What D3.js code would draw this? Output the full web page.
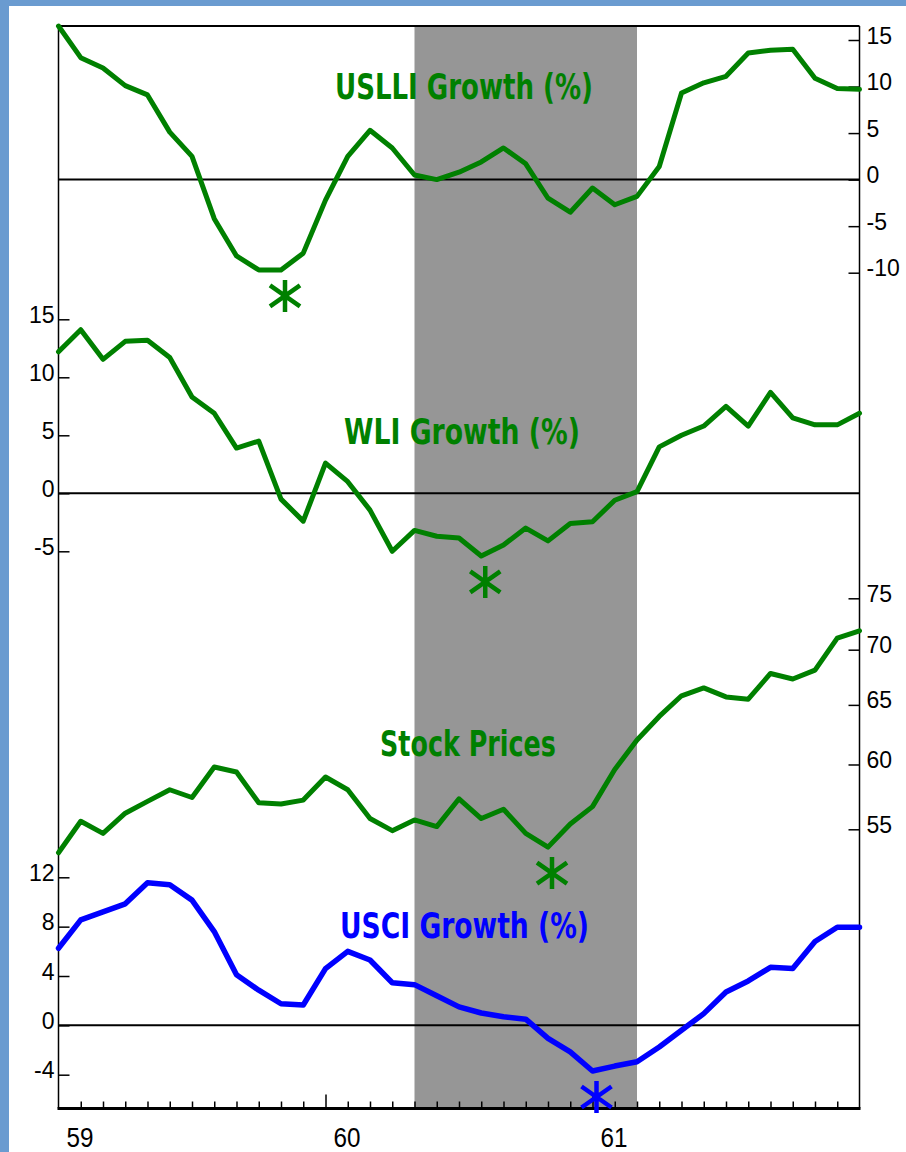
<!DOCTYPE html>
<html>
<head>
<meta charset="utf-8">
<script src="https://cdn.jsdelivr.net/npm/d3@7"></script>
<style>
  body { margin: 0; background: #fff; }
  svg { display: block; }
  .title { font-family: 'DejaVu Sans Condensed', 'DejaVu Sans', sans-serif; font-weight: bold; font-size: 36px; }
</style>
</head>
<body>
<div id="chart"></div>
<script>
// monthly data, Jan 1959 .. Jan 1962 (37 points)
let months = d3.range(0, 37)
let years = ['59', '60', '61']

let uslli = [16.5, 13.1, 12.0, 10.1, 9.1, 5.1, 2.5, -4.2, -8.2, -9.7, -9.7, -7.9, -2.2,
  2.5, 5.3, 3.4, 0.5, 0.0, 0.8, 1.9, 3.4, 1.7, -2.0, -3.5, -0.9, -2.7, -1.8,
  1.4, 9.3, 10.4, 11.1, 13.6, 13.9, 14.0, 10.9, 9.8, 9.7]

let wli = [12.2, 14.1, 11.55, 13.1, 13.2, 11.7, 8.3, 6.9, 3.9, 4.5, -0.5, -2.4, 2.6,
  1.0, -1.45, -5.0, -3.2, -3.7, -3.85, -5.4, -4.45, -3.0, -4.1, -2.6, -2.45, -0.6, 0.15,
  4.0, 5.0, 5.8, 7.5, 5.8, 8.7, 6.5, 5.9, 5.9, 6.9]

let stock = [53.3, 55.6, 54.7, 56.2, 57.1, 58.0, 57.4, 59.8, 59.4, 57.0, 56.9, 57.2, 59.0,
  58.0, 55.8, 54.9, 55.7, 55.2, 57.3, 55.8, 56.5, 54.7, 53.7, 55.4, 56.7, 59.6, 62.0,
  64.0, 65.8, 66.5, 65.7, 65.5, 67.8, 67.3, 68.1, 71.1, 71.8]

let usci = [6.25, 8.55, 9.2, 9.85, 11.55, 11.4, 10.15, 7.6, 4.1, 2.85, 1.75, 1.65, 4.6,
  6.0, 5.3, 3.45, 3.3, 2.4, 1.5, 1.0, 0.7, 0.5, -1.05, -2.15, -3.7, -3.3, -2.95,
  -1.75, -0.4, 0.95, 2.7, 3.6, 4.7, 4.6, 6.8, 7.95, 7.95]

// recession: May 1960 .. Mar 1961 (month index)
let recession = [16, 26]

// trough month for each series (asterisk)
let troughs = { uslli: 10, wli: 19, stock: 22, usci: 24 }

let uslliTicks = [15, 10, 5, 0, -5, -10]
let wliTicks = [15, 10, 5, 0, -5]
let stockTicks = [75, 70, 65, 60, 55]
let usciTicks = [12, 8, 4, 0, -4]

let width = 906
let height = 1152
let plotLeft = 58.5
let plotRight = 859.5
let plotTop = 26
let plotBottom = 1108.5

let green = '#008000'
let blue = '#0000ff'
let labelFont = "'Liberation Sans', Arial, sans-serif"

let svg = d3.select('#chart')
  .append('svg')
  .attr('width', width)
  .attr('height', height)

// frame border
svg.append('rect').attr('x', 0).attr('y', 0).attr('width', width).attr('height', height).attr('fill', '#fff')
svg.append('rect').attr('x', 0).attr('y', 0).attr('width', width).attr('height', 6).attr('fill', '#6a9bd0')
svg.append('rect').attr('x', 0).attr('y', 0).attr('width', 9).attr('height', height).attr('fill', '#6a9bd0')

let x = d3.scaleLinear().domain([0, 36]).range([plotLeft, plotRight])

let yUslli = d3.scaleLinear().domain([-10, 15]).range([272.7, 40])
let yWli = d3.scaleLinear().domain([-5, 15]).range([551.3, 319.3])
let yStock = d3.scaleLog().domain([55, 75]).range([829.3, 598.3])
let yUsci = d3.scaleLinear().domain([-4, 12]).range([1074.7, 877.3])

// recession shading
svg.append('rect')
  .attr('x', x(recession[0]))
  .attr('y', plotTop + 1)
  .attr('width', x(recession[1]) - x(recession[0]))
  .attr('height', plotBottom - plotTop - 1)
  .attr('fill', '#969696')

// zero lines
;[yUslli, yWli, yUsci].forEach(s => {
  svg.append('line')
    .attr('x1', plotLeft).attr('x2', plotRight)
    .attr('y1', s(0)).attr('y2', s(0))
    .attr('stroke', '#000').attr('stroke-width', 2)
})

// axes
let plain = d => `${d}`

function styleAxis(g, dy) {
  g.attr('font-family', labelFont).attr('font-size', 23)
  g.select('.domain').remove()
  g.selectAll('.tick line').attr('stroke', '#000').attr('stroke-width', 1.5)
  g.selectAll('.tick text').attr('dy', dy).attr('fill', '#000')
}

svg.append('g')
  .attr('transform', `translate(${plotRight},0)`)
  .call(d3.axisRight(yUslli).tickValues(uslliTicks).tickSize(-11).tickPadding(7).tickFormat(plain))
  .call(g => styleAxis(g, '0.13em'))

svg.append('g')
  .attr('transform', `translate(${plotRight},0)`)
  .call(d3.axisRight(yStock).tickValues(stockTicks).tickSize(-11).tickPadding(7).tickFormat(plain))
  .call(g => styleAxis(g, '0.13em'))

svg.append('g')
  .attr('transform', `translate(${plotLeft},0)`)
  .call(d3.axisLeft(yWli).tickValues(wliTicks).tickSize(-11).tickPadding(4).tickFormat(plain))
  .call(g => styleAxis(g, '0.13em'))

svg.append('g')
  .attr('transform', `translate(${plotLeft},0)`)
  .call(d3.axisLeft(yUsci).tickValues(usciTicks).tickSize(-11).tickPadding(4).tickFormat(plain))
  .call(g => styleAxis(g, '0.13em'))

// month ticks along the bottom
svg.append('g')
  .attr('transform', `translate(0,${plotBottom})`)
  .call(d3.axisBottom(x).tickValues(d3.range(1, 36).filter(d => d % 12 !== 0)).tickSize(-7).tickFormat(''))
  .call(g => styleAxis(g, '0'))

svg.append('g')
  .attr('transform', `translate(0,${plotBottom})`)
  .call(d3.axisBottom(x).tickValues([12, 24]).tickSize(-14).tickFormat(''))
  .call(g => styleAxis(g, '0'))

svg.selectAll('.year-label')
  .data(years)
  .enter()
  .append('text')
  .attr('class', 'year-label')
  .attr('x', (d, i) => x(i * 12) + 8)
  .attr('y', 1146.5)
  .attr('font-family', labelFont)
  .attr('font-size', 27)
  .attr('textLength', 27)
  .attr('lengthAdjust', 'spacingAndGlyphs')
  .text(d => d)

// plot frame
svg.append('line').attr('x1', plotLeft).attr('x2', plotRight).attr('y1', plotTop).attr('y2', plotTop)
  .attr('stroke', '#000').attr('stroke-width', 2)
svg.append('line').attr('x1', plotLeft).attr('x2', plotLeft).attr('y1', plotTop).attr('y2', plotBottom)
  .attr('stroke', '#000').attr('stroke-width', 1.5)
svg.append('line').attr('x1', plotRight).attr('x2', plotRight).attr('y1', plotTop).attr('y2', plotBottom)
  .attr('stroke', '#000').attr('stroke-width', 1.5)
svg.append('line').attr('x1', plotLeft - 1).attr('x2', plotRight + 1).attr('y1', plotBottom).attr('y2', plotBottom)
  .attr('stroke', '#000').attr('stroke-width', 3)

// series
let series = [
  { key: 'uslli', values: uslli, y: yUslli, color: green, width: 5,
    title: 'USLLI Growth (%)', tx: 335, ty: 98.5, tl: 258 },
  { key: 'wli', values: wli, y: yWli, color: green, width: 5,
    title: 'WLI Growth (%)', tx: 344, ty: 443.5, tl: 236 },
  { key: 'stock', values: stock, y: yStock, color: green, width: 5,
    title: 'Stock Prices', tx: 380, ty: 756, tl: 176 },
  { key: 'usci', values: usci, y: yUsci, color: blue, width: 5.5,
    title: 'USCI Growth (%)', tx: 340, ty: 937.5, tl: 249 }
]

series.forEach(s => {
  let line = d3.line()
    .x(d => x(d))
    .y(d => s.y(s.values[d]))

  svg.append('path')
    .datum(months)
    .attr('d', line)
    .attr('fill', 'none')
    .attr('stroke', s.color)
    .attr('stroke-width', s.width)
    .attr('stroke-linejoin', 'round')
    .attr('stroke-linecap', 'round')

  // trough asterisk, just below the low point
  let m = troughs[s.key]
  let cx = x(m) + 4
  let cy = s.y(s.values[m]) + 26
  svg.append('path')
    .attr('d', `M${cx},${cy - 16}V${cy + 16}M${cx - 15},${cy - 10.5}L${cx + 15},${cy + 10.5}M${cx - 15},${cy + 10.5}L${cx + 15},${cy - 10.5}`)
    .attr('stroke', s.color)
    .attr('stroke-width', 4.5)
    .attr('fill', 'none')

  svg.append('text')
    .attr('class', 'title')
    .attr('x', s.tx)
    .attr('y', s.ty)
    .attr('fill', s.color)
    .attr('textLength', s.tl)
    .attr('lengthAdjust', 'spacingAndGlyphs')
    .text(s.title)
})
</script>
</body>
</html>
